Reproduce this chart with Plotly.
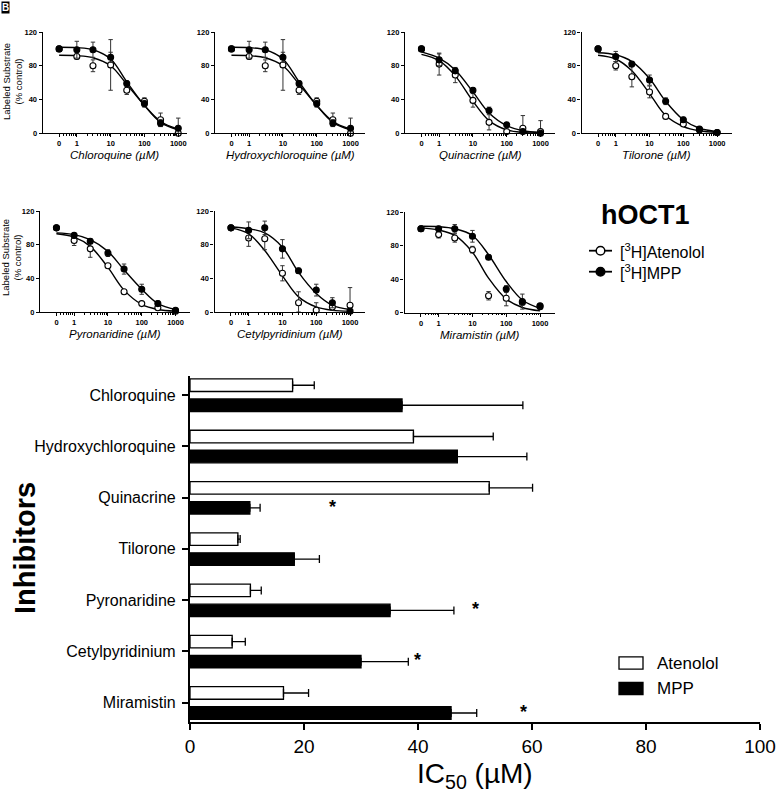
import plotly.graph_objects as go

W, H = 776, 794
FONT = "Liberation Sans, Arial, Helvetica, sans-serif"

def px(x):
    return x / W

def py(y):
    return 1 - y / H

# ---------------- concentration-response data ----------------
CONC = [0, 1, 3, 10, 30, 100, 300, 1000]   # µM ; 0 is drawn at ZERO_POS on the log axis
ZERO_POS = 0.3
FIT_X = [0.3, 1, 3, 10, 30, 100, 300, 1000]
X_TICKVALS = [0.3, 1, 10, 100, 1000]
X_TICKTEXT = ["0", "1", "10", "100", "1000"]
Y_TICKVALS = [0, 40, 80, 120]

CQ_ATE = [100, 91, 80, 81, 51, 38, 16, 0]
CQ_ATE_ERR = [0, 3, 7, 30, 5, 4, 8, 0]
CQ_MPP = [100, 99, 99, 90, 59, 35, 12, 6]
CQ_MPP_ERR = [0, 10, 9, 6, 3, 4, 4, 12]
CQ_ATE_FIT = [92.5, 92, 89.5, 80, 58, 33, 14, 5]
CQ_MPP_FIT = [102, 101.5, 99, 88, 61, 33, 13, 4]

HCQ_ATE = [100, 91, 80, 81, 51, 38, 16, 0]
HCQ_ATE_ERR = [0, 3, 7, 30, 5, 4, 8, 0]
HCQ_MPP = [100, 99, 99, 90, 59, 35, 12, 6]
HCQ_MPP_ERR = [0, 10, 9, 6, 3, 4, 4, 12]
HCQ_ATE_FIT = [92.5, 92, 89.5, 80, 58, 33, 14, 5]
HCQ_MPP_FIT = [102, 101.5, 99, 88, 61, 33, 13, 4]

QN_ATE = [100, 82, 69, 39, 13, 2, 6, 2]
QN_ATE_ERR = [0, 13, 9, 8, 9, 1, 15, 13]
QN_MPP = [100, 87, 74, 51, 27, 10, 2, 0]
QN_MPP_ERR = [0, 7, 3, 3, 4, 2, 1, 0]
QN_ATE_FIT = [93.5, 86, 68, 38, 15, 4, 1, 0.3]
QN_MPP_FIT = [96.5, 89, 75, 49, 24, 9, 3, 1]

TL_ATE = [100, 80, 67, 49, 20, 11, 4, 1]
TL_ATE_ERR = [0, 5, 12, 7, 2, 2, 1, 1]
TL_MPP = [100, 91, 82, 63, 38, 16, 5, 1]
TL_MPP_ERR = [0, 6, 3, 6, 4, 3, 2, 1]
TL_ATE_FIT = [92.5, 88, 74, 47, 21, 8, 3, 1]
TL_MPP_FIT = [95.5, 93, 85, 65, 38, 16, 6, 2]

PY_ATE = [100, 85, 75, 55, 24, 10, 5, 1]
PY_ATE_ERR = [0, 6, 10, 2, 2, 1, 2, 1]
PY_MPP = [100, 91, 84, 70, 51, 27, 10, 2]
PY_MPP_ERR = [0, 3, 3, 4, 6, 6, 3, 2]
PY_ATE_FIT = [93, 89, 78, 53, 26, 9, 3, 1]
PY_MPP_FIT = [94, 92, 86, 72, 50, 27, 10, 3]

CP_ATE = [100, 88, 87, 46, 11, 2, 6, 8]
CP_ATE_ERR = [0, 10, 13, 9, 13, 9, 4, 21]
CP_MPP = [100, 97, 100, 75, 49, 26, 11, 1]
CP_MPP_ERR = [0, 10, 8, 11, 3, 7, 6, 1]
CP_ATE_FIT = [100, 93, 73, 43, 18, 6, 2, 1]
CP_MPP_FIT = [101, 99, 94, 77, 47, 22, 8, 3]

MR_ATE = [100, 93, 89, 75, 20, 17, 12, 7]
MR_ATE_ERR = [0, 4, 5, 4, 5, 9, 0, 0]
MR_MPP = [100, 100, 100, 91, 66, 28, 13, 8]
MR_MPP_ERR = [0, 3, 5, 7, 2, 4, 9, 1]
MR_ATE_FIT = [101, 98.5, 92, 72, 41, 16, 6, 2]
MR_MPP_FIT = [103, 102.5, 100, 92, 69, 37, 15, 5]

# ---------------- IC50 bar data ----------------
INHIBITORS = ["Chloroquine", "Hydroxychloroquine", "Quinacrine", "Tilorone",
              "Pyronaridine", "Cetylpyridinium", "Miramistin"]
ATE_IC50 = [18.0, 39.2, 52.5, 8.4, 10.6, 7.4, 16.4]
ATE_SD = [3.8, 14.0, 7.6, 0.4, 1.9, 2.3, 4.4]
MPP_IC50 = [37.2, 46.9, 10.5, 18.3, 35.1, 30.0, 45.8]
MPP_SD = [21.2, 12.2, 1.8, 4.4, 11.2, 8.3, 4.5]
STAR_CATS = ["Quinacrine", "Pyronaridine", "Cetylpyridinium", "Miramistin"]
STAR_X = [25.0, 50.0, 39.9, 58.5]
X_TICKS_BAR = [0, 20, 40, 60, 80, 100]

# ---------------- panel definitions (data + layout geometry) ----------------
panels = [
    ("Chloroquine", CQ_ATE, CQ_ATE_ERR, CQ_MPP, CQ_MPP_ERR, CQ_ATE_FIT, CQ_MPP_FIT),
    ("Hydroxychloroquine", HCQ_ATE, HCQ_ATE_ERR, HCQ_MPP, HCQ_MPP_ERR, HCQ_ATE_FIT, HCQ_MPP_FIT),
    ("Quinacrine", QN_ATE, QN_ATE_ERR, QN_MPP, QN_MPP_ERR, QN_ATE_FIT, QN_MPP_FIT),
    ("Tilorone", TL_ATE, TL_ATE_ERR, TL_MPP, TL_MPP_ERR, TL_ATE_FIT, TL_MPP_FIT),
    ("Pyronaridine", PY_ATE, PY_ATE_ERR, PY_MPP, PY_MPP_ERR, PY_ATE_FIT, PY_MPP_FIT),
    ("Cetylpyridinium", CP_ATE, CP_ATE_ERR, CP_MPP, CP_MPP_ERR, CP_ATE_FIT, CP_MPP_FIT),
    ("Miramistin", MR_ATE, MR_ATE_ERR, MR_MPP, MR_MPP_ERR, MR_ATE_FIT, MR_MPP_FIT),
]
# (left px, top px of 120, bottom px of 0, log-range right end)
geom = [
    (42.7, 32, 133.3, 3.25),
    (215.0, 32, 133.3, 3.43),
    (405.0, 32, 133.3, 3.43),
    (581.6, 32, 133.3, 3.43),
    (40.0, 211, 312, 3.43),
    (214.5, 211, 312, 3.43),
    (404.5, 212, 312.5, 3.43),
]
LOG_LEFT = -1.01
DECADE_PX = 33.8

fig = go.Figure()
layout = dict(
    width=W, height=H, autosize=False,
    margin=dict(l=0, r=0, t=0, b=0, autoexpand=False),
    paper_bgcolor="white", plot_bgcolor="white",
    showlegend=False, barmode="overlay",
    font=dict(family=FONT, color="black"),
)
annotations = []
shapes = []

minor_vals = [0.4, 0.5, 0.6, 0.7, 0.8, 0.9] + [m * d for d in (1, 10, 100) for m in range(2, 10)]

xpos = [c if c > 0 else ZERO_POS for c in CONC]

for i, (name, ate, ate_e, mpp, mpp_e, ate_fit, mpp_fit) in enumerate(panels):
    n = i + 1
    xa = "x" if n == 1 else f"x{n}"
    ya = "y" if n == 1 else f"y{n}"
    left, top, bottom, rlog = geom[i]
    right = left + (rlog - LOG_LEFT) * DECADE_PX
    layout["xaxis" if n == 1 else f"xaxis{n}"] = dict(
        type="log", range=[LOG_LEFT, rlog], domain=[px(left), px(right)],
        anchor=ya, showline=True, linecolor="black", linewidth=1.3,
        ticks="outside", ticklen=3, tickwidth=1.2, tickcolor="black",
        tickvals=X_TICKVALS, ticktext=X_TICKTEXT,
        tickfont=dict(size=7.5, weight="bold", family=FONT),
        showgrid=False, zeroline=False, ticklabeloverflow="allow", automargin=False,
        minor=dict(tickvals=minor_vals, ticks="outside", ticklen=1.8,
                   tickwidth=0.8, tickcolor="black", showgrid=False),
    )
    layout["yaxis" if n == 1 else f"yaxis{n}"] = dict(
        range=[0, 120], domain=[py(bottom), py(top)], anchor=xa,
        showline=True, linecolor="black", linewidth=1.3,
        ticks="outside", ticklen=3, tickwidth=1.2, tickcolor="black",
        tickvals=Y_TICKVALS, tickfont=dict(size=7.5, weight="bold", family=FONT),
        showgrid=False, zeroline=False, ticklabelstandoff=0, ticklabeloverflow="allow",
        automargin=False,
    )
    # fitted curves
    for fit in (ate_fit, mpp_fit):
        fig.add_trace(go.Scatter(
            x=FIT_X, y=fit, mode="lines", line=dict(color="black", width=1.4, shape="spline", smoothing=1.0),
            xaxis=xa, yaxis=ya, hoverinfo="skip", cliponaxis=False))
    # data points
    for vals, errs, fill in ((ate, ate_e, "white"), (mpp, mpp_e, "black")):
        fig.add_trace(go.Scatter(
            x=xpos, y=vals, mode="markers",
            marker=dict(symbol="circle", size=6, color=fill, line=dict(color="black", width=1.1)),
            error_y=dict(type="data", array=errs, arrayminus=[min(e, v) for e, v in zip(errs, vals)],
                         symmetric=False, color="#333333", thickness=1, width=2.2),
            xaxis=xa, yaxis=ya, cliponaxis=False))
    # x title
    annotations.append(dict(
        text=f"<i>{name} (µM)</i>", x=px((left + right) / 2), y=py(bottom + 22),
        xref="paper", yref="paper", showarrow=False, xanchor="center", yanchor="middle",
        font=dict(size=11.5, family=FONT)))

# y titles for small panels
for yc in (82, 258):
    annotations.append(dict(
        text="Labeled Substrate<br>(% control)", x=px(12), y=py(yc), xref="paper", yref="paper",
        showarrow=False, textangle=-90, xanchor="center", yanchor="middle",
        font=dict(size=9.5, family=FONT)))

# hOCT1 legend
annotations.append(dict(text="<b>hOCT1</b>", x=px(645), y=py(215), xref="paper", yref="paper",
                        showarrow=False, xanchor="center", yanchor="middle", font=dict(size=27, family=FONT)))
for label, yc, fill in (("[<sup>3</sup>H]Atenolol", 250.7, "white"), ("[<sup>3</sup>H]MPP", 271.7, "black")):
    shapes.append(dict(type="line", xref="paper", yref="paper", x0=px(589), x1=px(612), y0=py(yc), y1=py(yc),
                       line=dict(color="black", width=1.8)))
    shapes.append(dict(type="circle", xref="paper", yref="paper", x0=px(596.2), x1=px(604.8),
                       y0=py(yc + 4.3), y1=py(yc - 4.3), fillcolor=fill, line=dict(color="black", width=1.5)))
    annotations.append(dict(text=label, x=px(618), y=py(yc), xref="paper", yref="paper", showarrow=False,
                            xanchor="left", yanchor="middle", font=dict(size=16, family=FONT)))

# "B" panel tag
annotations.append(dict(text="<b>B</b>", x=px(1), y=py(1), xref="paper", yref="paper", showarrow=False,
                        xanchor="left", yanchor="top", bgcolor="black", borderpad=0,
                        font=dict(size=10, color="white", family=FONT)))

# ---------------- bar chart ----------------
BAR_TOP, BAR_BOT = 376, 721.7
layout["xaxis8"] = dict(
    range=[0, 100], domain=[px(190), px(760)], anchor="y8",
    showline=True, linecolor="black", linewidth=2.2, ticks="outside", ticklen=6, tickwidth=2.2,
    tickcolor="black", tickvals=X_TICKS_BAR, tickfont=dict(size=19, family=FONT),
    showgrid=False, zeroline=False, ticklabeloverflow="allow", automargin=False)
layout["yaxis8"] = dict(
    type="category", categoryorder="array", categoryarray=INHIBITORS,
    range=[6.37, -0.37], domain=[py(BAR_BOT), py(BAR_TOP)], anchor="x8",
    showline=True, linecolor="black", linewidth=2.2, ticks="outside", ticklen=6, tickwidth=2.2,
    tickcolor="black", tickfont=dict(size=16, family=FONT), showgrid=False, zeroline=False,
    ticklabelstandoff=3, automargin=False)

fig.add_trace(go.Bar(
    y=INHIBITORS, x=ATE_IC50, orientation="h", offset=-0.312, width=0.244,
    marker=dict(color="white", line=dict(color="black", width=1.3)),
    error_x=dict(type="data", array=ATE_SD, arrayminus=[0] * len(ATE_SD), symmetric=False,
                 color="black", thickness=1.3, width=4),
    xaxis="x8", yaxis="y8"))
fig.add_trace(go.Bar(
    y=INHIBITORS, x=MPP_IC50, orientation="h", offset=0.078, width=0.244,
    marker=dict(color="black", line=dict(color="black", width=1.3)),
    error_x=dict(type="data", array=MPP_SD, arrayminus=[0] * len(MPP_SD), symmetric=False,
                 color="black", thickness=1.3, width=4),
    xaxis="x8", yaxis="y8"))

for cat, sx in zip(STAR_CATS, STAR_X):
    annotations.append(dict(text="*", x=sx, y=cat, xref="x8", yref="y8", showarrow=False,
                            xanchor="center", yanchor="middle", yshift=-9,
                            font=dict(size=18, weight="bold", family=FONT)))

annotations.append(dict(text="<b>Inhibitors</b>", x=px(25), y=py(548), xref="paper", yref="paper",
                        showarrow=False, textangle=-90, xanchor="center", yanchor="middle",
                        font=dict(size=29, family=FONT)))
annotations.append(dict(text="IC<sub>50</sub> (µM)", x=px(475), y=py(775), xref="paper", yref="paper",
                        showarrow=False, xanchor="center", yanchor="middle",
                        font=dict(size=28, family=FONT)))

# bar legend
for label, yc, fill in (("Atenolol", 663, "white"), ("MPP", 688.5, "black")):
    shapes.append(dict(type="rect", xref="paper", yref="paper", x0=px(619), x1=px(643),
                       y0=py(yc + 6.2), y1=py(yc - 6.2), fillcolor=fill, line=dict(color="black", width=1.3)))
    annotations.append(dict(text=label, x=px(655), y=py(yc), xref="paper", yref="paper", showarrow=False,
                            xanchor="left", yanchor="middle", font=dict(size=17, family=FONT)))

layout["annotations"] = annotations
layout["shapes"] = shapes
fig.update_layout(**layout)
fig.write_html("out.html",
               config={"displayModeBar": False},
               post_script="document.body.style.margin='0';document.body.style.overflow='hidden';")
